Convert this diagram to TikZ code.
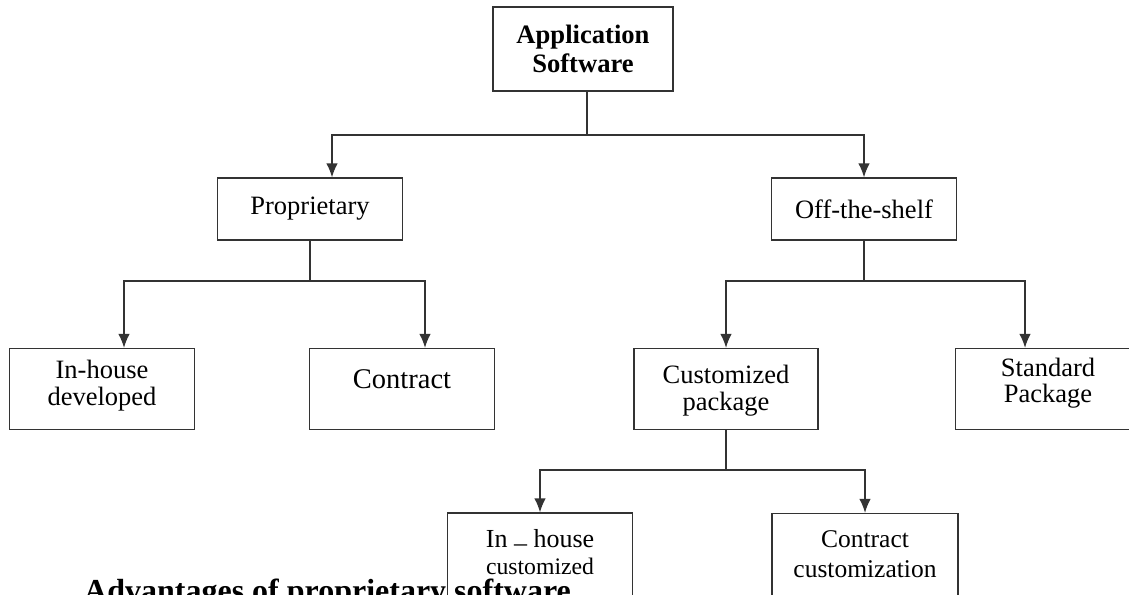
\documentclass[tikz,border=0pt]{standalone}
\usepackage{fontspec}
\setmainfont{Liberation Serif}
\usepackage{tikz}
\usetikzlibrary{arrows.meta}
\usetikzlibrary{positioning}
\tikzstyle{block}    = [rectangle, draw=black!80, line width=1.3pt, align=center, inner sep=0pt, minimum width=185pt, minimum height=81pt, font=\fontsize{26.5}{26.5}\selectfont]
\tikzstyle{line}     = [draw=black!80, line width=1.3pt, -{Latex[length=14pt,width=11.5pt]}]
\tikzstyle{wire}     = [draw=black!80, line width=1.3pt]

\begin{document}
\begin{tikzpicture}[x=1pt, y=-1pt, node distance=300pt]
	\useasboundingbox (0,0) rectangle (1129,594);
	\node [block, minimum width=180pt, minimum height=84pt, font=\bfseries\fontsize{26.6}{29}\selectfont] (app) at (583,49) {Application\\Software};
	\node [block, minimum height=62pt] (prop) at (310,209) {Proprietary};
	\node [block, right of=prop, node distance=554pt, minimum height=62pt] (ots) {Off-the-shelf};
	\node [block, text depth=12pt] (ihd) at (102,389) {In-house\\developed};
	\node [block, right of=ihd, font=\fontsize{28.5}{28}\selectfont, text depth=19pt] (con) {Contract};
	\node [block, minimum width=184pt, text depth=2pt] (cpk) at (726,389) {Customized\\package};
	\node [block, right of=cpk, node distance=322pt, text depth=17pt] (spk) {Standard\\Package};
	\node [block, minimum height=83pt, text depth=6pt, font=\fontsize{26}{22}\selectfont] (ihc) at (540,554.5) {In \raisebox{-.35ex}{--} house\\[5pt]{\fontsize{23.7}{22}\selectfont customized}};
	\node [block, right of=ihc, node distance=325pt, minimum width=186pt, minimum height=82pt, font=\fontsize{25.5}{30}\selectfont] (ccu) {Contract\\customization};
	\node [anchor=base west, inner sep=0pt, font=\bfseries\fontsize{32}{36}\selectfont] (adv) at (84,601) {Advantages of proprietary software};
	\coordinate (aj) at (587,135);
	\coordinate (pj) at (310,281);
	\coordinate (oj) at (864,281);
	\coordinate (cj) at (726,470);
	\path [wire] ([xshift=4pt]app.south) -- (aj);
	\path [line] (aj) -| ([xshift=22pt]prop.north);
	\path [line] (aj) -| (ots.north);
	\path [wire] (prop.south) -- (pj);
	\path [line] (pj) -| ([xshift=22pt]ihd.north);
	\path [line] (pj) -| ([xshift=23pt]con.north);
	\path [wire] (ots.south) -- (oj);
	\path [line] (oj) -| (cpk.north);
	\path [line] (oj) -| ([xshift=-23pt]spk.north);
	\path [wire] (cpk.south) -- (cj);
	\path [line] (cj) -| (ihc.north);
	\path [line] (cj) -| (ccu.north);
\end{tikzpicture}
\end{document}
